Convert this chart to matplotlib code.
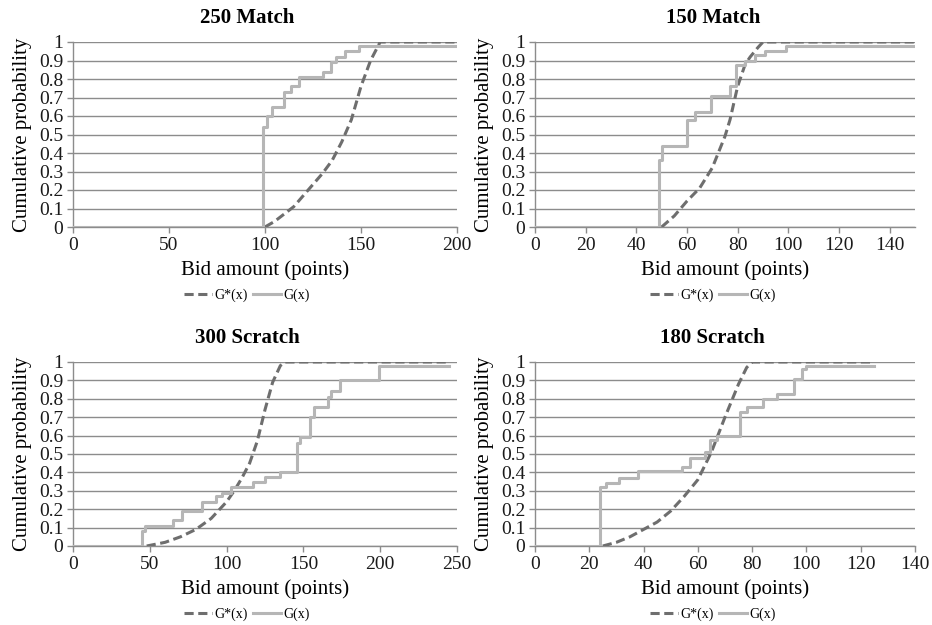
import matplotlib
matplotlib.use("Agg")
import matplotlib.pyplot as plt

plt.rcParams['font.family'] = ['Liberation Serif', 'DejaVu Serif']

# ---- values ----
titles = ['250 Match', '150 Match', '300 Scratch', '180 Scratch']
x_limits = [200, 150, 250, 140]
x_tick_step = [50, 20, 50, 20]
x_tick_last = [200, 140, 250, 140]

y_ticks = [0, 0.1, 0.2, 0.3, 0.4, 0.5, 0.6, 0.7, 0.8, 0.9, 1.0]
y_tick_labels = ['0', '0.1', '0.2', '0.3', '0.4', '0.5', '0.6', '0.7', '0.8', '0.9', '1']

# G*(x): equilibrium bid distribution (dashed)
match250_gstar_x = [100, 105, 110, 115, 120, 125, 130, 135, 140, 145, 150, 155, 158, 160, 200]
match250_gstar_y = [0, 0.03, 0.07, 0.11, 0.17, 0.23, 0.29, 0.36, 0.46, 0.58, 0.76, 0.90, 0.96, 1.0, 1.0]
match150_gstar_x = [50, 55, 60, 65, 70, 75, 77, 80, 83, 85, 88, 90, 150]
match150_gstar_y = [0, 0.06, 0.14, 0.21, 0.32, 0.49, 0.58, 0.76, 0.88, 0.92, 0.97, 1.0, 1.0]
scratch300_gstar_x = [48, 60, 70, 80, 90, 100, 105, 110, 115, 120, 125, 130, 135, 138, 245]
scratch300_gstar_y = [0, 0.02, 0.05, 0.09, 0.15, 0.24, 0.30, 0.37, 0.45, 0.57, 0.74, 0.89, 0.98, 1.0, 1.0]
scratch180_gstar_x = [25, 30, 35, 40, 45, 50, 55, 60, 65, 70, 75, 78, 80, 125]
scratch180_gstar_y = [0, 0.02, 0.05, 0.09, 0.13, 0.19, 0.27, 0.36, 0.51, 0.70, 0.88, 0.97, 1.0, 1.0]

# G(x): empirical bid distribution (solid, step function)
match250_g_x = [0, 99, 101, 103.5, 110, 113.5, 117.5, 130, 134.5, 137, 141.5, 149, 200]
match250_g_y = [0, 0.54, 0.60, 0.65, 0.73, 0.76, 0.81, 0.84, 0.89, 0.92, 0.95, 0.98, 0.98]
match150_g_x = [0, 49, 50, 60, 63, 69.5, 77, 79.5, 83, 87, 91, 99, 150]
match150_g_y = [0, 0.36, 0.44, 0.58, 0.62, 0.71, 0.76, 0.875, 0.90, 0.93, 0.95, 0.98, 0.98]
scratch300_g_x = [0, 45, 47, 65, 71, 84, 93, 97, 103, 117, 125, 135, 146, 148, 154, 157, 166, 168, 174, 199, 245]
scratch300_g_y = [0, 0.08, 0.11, 0.14, 0.19, 0.24, 0.27, 0.29, 0.32, 0.35, 0.375, 0.40, 0.56, 0.59, 0.70, 0.755, 0.81, 0.84, 0.90, 0.98, 0.98]
scratch180_g_x = [0, 24, 26, 31, 38, 54, 57, 62.5, 64.5, 67, 75.5, 78, 84, 89, 95.5, 98.5, 100, 125]
scratch180_g_y = [0, 0.32, 0.34, 0.37, 0.41, 0.43, 0.48, 0.51, 0.575, 0.60, 0.73, 0.755, 0.80, 0.825, 0.905, 0.96, 0.98, 0.98]

gstar_x = [match250_gstar_x, match150_gstar_x, scratch300_gstar_x, scratch180_gstar_x]
gstar_y = [match250_gstar_y, match150_gstar_y, scratch300_gstar_y, scratch180_gstar_y]
g_x = [match250_g_x, match150_g_x, scratch300_g_x, scratch180_g_x]
g_y = [match250_g_y, match150_g_y, scratch300_g_y, scratch180_g_y]

# axes boxes in figure fractions [left, bottom, width, height]
boxes = [[0.0783, 0.6368, 0.412, 0.296],
         [0.574, 0.6368, 0.4077, 0.296],
         [0.0783, 0.1264, 0.412, 0.2944],
         [0.574, 0.1264, 0.4077, 0.2944]]
title_x = [0.453, 0.468, 0.453, 0.468]

grid_col = '#8c8c8c'
dash_col = '#6e6e6e'
solid_col = '#b6b6b6'

fig = plt.figure(figsize=(9.32, 6.25), dpi=100)

for i in range(4):
    ax = fig.add_axes(boxes[i])
    ax.plot(gstar_x[i], gstar_y[i], color=dash_col, lw=2.2, dashes=(3, 1.5),
            label='G*(x)', zorder=3)
    ax.plot(g_x[i], g_y[i], color=solid_col, lw=2.2, drawstyle='steps-post',
            label='G(x)', zorder=4)

    ax.set_xlim(0, x_limits[i])
    ax.set_ylim(0, 1)
    ax.set_xticks(list(range(0, x_tick_last[i] + 1, x_tick_step[i])))
    ax.set_yticks(y_ticks)
    ax.set_yticklabels(y_tick_labels)
    ax.yaxis.grid(True, color=grid_col, lw=1.0)
    ax.set_axisbelow(True)
    for s in ['top', 'right']:
        ax.spines[s].set_visible(False)
    for s in ['left', 'bottom']:
        ax.spines[s].set_color(grid_col)
        ax.spines[s].set_linewidth(1.0)
    ax.tick_params(axis='both', colors=grid_col, labelcolor='#1a1a1a',
                   labelsize=14, length=4, width=1.0, pad=3)

    ax.set_title(titles[i], fontsize=15, fontweight='bold', x=title_x[i], pad=13.5)
    ax.set_xlabel('Bid amount (points)', fontsize=15, labelpad=5)
    ax.set_ylabel('Cumulative probability', fontsize=15, labelpad=5)

    ax.legend(loc='center', bbox_to_anchor=(title_x[i], -0.37), ncol=2,
              frameon=False, fontsize=10, handlelength=2.0, handletextpad=0.15,
              columnspacing=0.4)

fig.savefig('out.png', dpi=100)
